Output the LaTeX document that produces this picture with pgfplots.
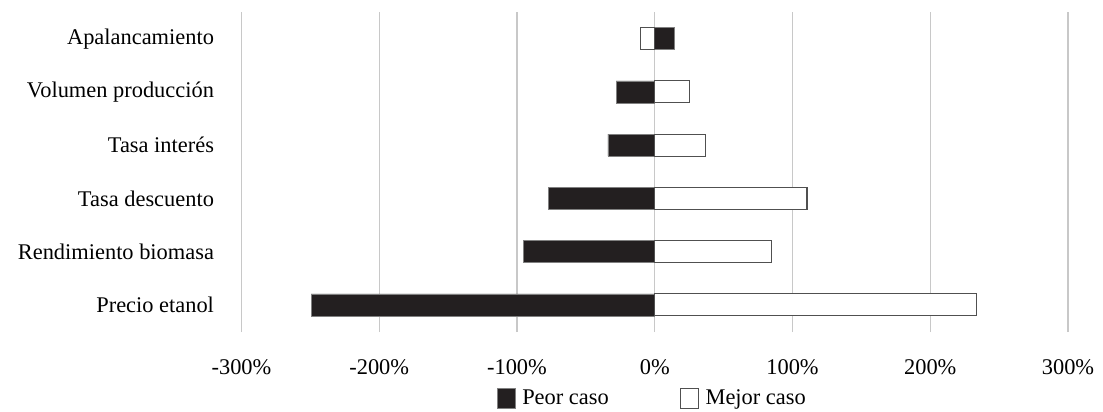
\documentclass[border=0pt]{standalone}
\usepackage{fontspec}
\setmainfont{Liberation Serif}
\usepackage{pgfplots}
\pgfplotsset{compat=1.18}
\definecolor{barblack}{RGB}{35,31,32}
\definecolor{gridgray}{RGB}{200,200,200}
\definecolor{edgegray}{RGB}{80,80,80}

\begin{document}
\begin{tikzpicture}
\useasboundingbox (-241.5bp,-80bp) rectangle (861.5bp,332bp);
\begin{axis}[
    at={(0,0)}, anchor=south west,
    scale only axis,
    width=826.5bp, height=320bp,
    xbar, bar width=22bp,
    xmin=-300, xmax=300,
    ymin=0.49, ymax=6.5,
    xtick={-300,-200,-100,0,100,200,300},
    xticklabels={-300\%,-200\%,-100\%,0\%,100\%,200\%,300\%},
    ytick={1,2,3,4,5,6},
    yticklabels={Precio etanol,Rendimiento biomasa,Tasa descuento,Tasa interés,Volumen producción,Apalancamiento},
    font=\fontsize{22.5}{26}\selectfont,
    xmajorgrids=true,
    grid style={gridgray, line width=1.4bp},
    axis line style={draw=none},
    major tick length=0pt,
    xticklabel style={yshift=-24bp},
    yticklabel style={xshift=-24bp},
    legend columns=2,
    legend style={at={(0.5,-0.206)}, anchor=center, draw=none, fill=none,
        /tikz/every even column/.append style={column sep=64bp},
        nodes={inner xsep=7bp}},
    legend cell align=left,
]
\addplot[bar shift=0pt, fill=barblack, draw=gray, line width=0.6bp,
    legend image code/.code={\draw[fill=barblack, draw=gray] (0bp,-10bp) rectangle (18bp,10bp);}]
    coordinates {(-249.4,1) (-95.6,2) (-77.4,3) (-34.0,4) (-28.1,5) (14.1,6)};
\addlegendentry{Peor caso}
\addplot[bar shift=0pt, fill=white, draw=edgegray, line width=1.2bp,
    legend image code/.code={\draw[fill=white, draw=edgegray, line width=0.8bp] (0bp,-10bp) rectangle (18bp,10bp);}]
    coordinates {(233.8,1) (84.5,2) (110.5,3) (36.9,4) (25.5,5) (-10.2,6)};
\addlegendentry{Mejor caso}
\end{axis}
\end{tikzpicture}
\end{document}
